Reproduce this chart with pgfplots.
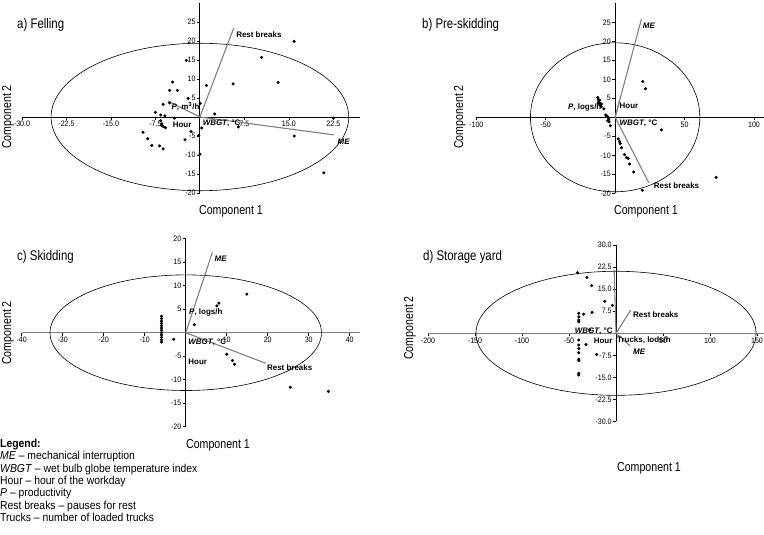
\documentclass[border=0pt]{standalone}
\usepackage{fontspec}
\setmainfont{Liberation Sans}
\newfontfamily\narrow{Liberation Sans}[FakeStretch=0.82]
\newfontfamily\legfont{Liberation Sans}[FakeStretch=0.9]
\usepackage{pgfplots}
\pgfplotsset{compat=1.18}

\pgfplotsset{
  pca/.style={
    scale only axis, anchor=south west,
    axis lines=middle, clip=false,
    axis line style={-, line width=0.8pt, black},
    tick align=outside, major tick length=3bp,
    tick style={black, line width=0.6pt},
    ticklabel style={font=\legfont\fontsize{7.9}{8.5}\selectfont, inner sep=1.2bp},
    /pgf/number format/assume math mode=true,
  },
  vec/.style={gray, line width=1.1pt, no markers, forget plot},
  pts/.style={only marks, mark=*, mark size=1.35bp, black, forget plot},
}
\tikzset{
  lab/.style={anchor=west, inner sep=0pt, font=\bfseries\fontsize{8}{9}\selectfont},
  fix1/.style={/pgf/number format/.cd, fixed, fixed zerofill, precision=1},
}
\newcommand{\ti}[1]{\textit{#1}}

\begin{document}
\begin{tikzpicture}
\useasboundingbox (0,0) rectangle (764bp,535bp);

% a) Felling
\begin{axis}[pca, at={(22bp,342bp)}, width=338bp, height=190bp,
  xmin=-30, xmax=27, ymin=-20, ymax=30,
  xtick={-30,-22.5,-15,-7.5,7.5,15,22.5}, ytick={-20,-15,...,25},
  xticklabel style={fix1}]
\draw[line width=0.6pt] (axis cs:0,0) ellipse [x radius=25.1, y radius=19.4];
\addplot[vec] coordinates {(0,0) (5.7,23.4)};
\addplot[vec] coordinates {(0,0) (22.6,-4.7)};
\addplot[vec] coordinates {(0,0) (-5.4,4.2)};
\addplot[pts] coordinates {
 (15.9,19.9) (10.4,15.7) (13.2,9.1) (5.6,8.7) (1.1,8.3) (-2.3,14.9)
 (-4.6,9.2) (-5.1,7.0) (-3.8,7.0) (-2.0,4.9) (0.05,3.6) (-5.1,3.7)
 (-6.2,3.3) (-7.5,1.2) (-6.6,0.5) (-5.9,0.3) (-4.3,-0.3) (-6.6,-1.0)
 (-6.4,-1.8) (-6.2,-2.5) (-5.8,-2.8) (-6.5,-2.2) (2.5,0.8) (22.5,-0.3)
 (0.3,-2.9) (-1.5,-3.8) (-0.2,-4.8) (6.5,-2.6) (15.9,-5.0) (-9.6,-4.0)
 (-8.8,-5.7) (-8.1,-7.5) (-6.8,-7.6) (-6.2,-8.4) (-2.5,-6.0) (0,-9.8)
 (20.9,-14.7)};
\node[lab] at (axis cs:6.1,21.8) {Rest breaks};
\node[lab] at (axis cs:23.2,-6.5) {\ti{ME}};
\node[lab] at (axis cs:-4.8,2.7) {\ti{P}, m\textsuperscript{3}/h};
\node[lab] at (axis cs:-4.6,-2.1) {Hour};
\node[lab] at (axis cs:0.45,-1.7) {\ti{WBGT}, °C};
\end{axis}

% b) Pre-skidding
\begin{axis}[pca, at={(476.3bp,341.7bp)}, width=287.4bp, height=190bp,
  xmin=-100, xmax=107, ymin=-20, ymax=30,
  xtick={-100,-50,50,100}, ytick={-20,-15,...,25}]
\draw[line width=0.6pt] (axis cs:0,0) ellipse [x radius=61, y radius=19.6];
\addplot[vec] coordinates {(0,0) (18.9,25.8)};
\addplot[vec] coordinates {(0,0) (24.2,-17.2)};
\addplot[vec] coordinates {(0,0) (3.1,4.4)};
\addplot[pts] coordinates {
 (19.9,9.4) (21.8,7.5) (33.3,-3.3) (72.7,-15.8) (19.6,-19.2)
 (-12.5,5.2) (-12.2,4.7) (-11.8,4.3) (-11.5,3.9) (-11.0,3.5) (-10.5,3.1)
 (-10.0,2.8) (-12.0,3.8) (-11.2,4.5) (-9.8,3.5) (-8.1,2.2)
 (-6.8,0.6) (-6.0,0.3) (-5.2,0) (-4.6,-0.5) (-5.4,-0.9) (-4.4,-1.2)
 (-3.4,-2.2) (2.2,-5.7) (3.2,-6.4) (3.6,-6.9) (4.6,-8) (6.8,-9.8)
 (8.2,-10.6) (9.4,-10.8) (10.3,-12.3) (13.4,-14.4)};
\node[lab] at (axis cs:19.9,24.1) {\ti{ME}};
\node[lab] at (axis cs:3.1,3.0) {Hour};
\node[lab] at (axis cs:-34,2.5) {\ti{P}, logs/h};
\node[lab] at (axis cs:3.1,-1.6) {\ti{WBGT}, °C};
\node[lab] at (axis cs:27.8,-18) {Rest breaks};
\end{axis}

% c) Skidding
\begin{axis}[pca, at={(21.7bp,108.3bp)}, width=338.3bp, height=188bp,
  xmin=-40, xmax=42.5, ymin=-20, ymax=20,
  x axis line style={gray},
  xtick={-40,-30,...,40}, ytick={-20,-15,...,20}]
\draw[line width=0.6pt] (axis cs:0,0) ellipse [x radius=33.1, y radius=12.3];
\addplot[vec] coordinates {(0,0) (6.5,17.1)};
\addplot[vec] coordinates {(0,0) (19.5,-6.5)};
\addplot[pts] coordinates {
 (14.9,8.2) (8.1,6.3) (7.6,5.7) (2.1,1.7) (-2.9,-1.4)
 (-5.9,3.5) (-5.9,3.0) (-5.9,2.5) (-5.9,2.0) (-5.9,1.5) (-5.9,1.0)
 (-5.9,0.5) (-5.9,0) (-5.9,-0.5) (-5.9,-1.0) (-5.9,-1.5) (-5.9,-2.0)
 (10,-4.6) (11.4,-5.9) (11.9,-6.7) (25.5,-11.6) (34.8,-12.5)};
\node[lab] at (axis cs:7.0,15.7) {\ti{ME}};
\node[lab] at (axis cs:0.8,4.3) {\ti{P}, logs/h};
\node[lab] at (axis cs:0.6,-2.1) {\ti{WBGT}, °C};
\node[lab] at (axis cs:0.6,-6.2) {Hour};
\node[lab] at (axis cs:19.8,-7.4) {Rest breaks};
\end{axis}

% d) Storage yard
\begin{axis}[pca, at={(428bp,113.5bp)}, width=335.6bp, height=176.4bp,
  xmin=-200, xmax=157, ymin=-30, ymax=30,
  x axis line style={gray, line width=1.1pt},
  xtick={-200,-150,...,150}, ytick={-30,-22.5,...,30},
  yticklabel style={fix1}]
\draw[line width=0.6pt] (axis cs:0,0) ellipse [x radius=149, y radius=21.1];
\addplot[vec] coordinates {(0,0) (15.5,7.9)};
\addplot[vec] coordinates {(0,0) (15,-4.3)};
\addplot[vec] coordinates {(0,0) (-2,21.5)};
\addplot[pts] coordinates {
 (-41,20.6) (-31,19) (-26,16.2) (-12,10.9) (-4,9.5) (-25.5,7.1) (-34.5,6.5)
 (-39.6,6.8) (-39.6,5.6) (-39.6,4.5) (-39.6,3.9)
 (-39.6,-2.3) (-39.6,-4.0) (-39.6,-5.2) (-39.6,-6.6) (-39.6,-8.8)
 (-39.6,-9.3) (-39.6,-13.6) (-39.6,-14.2)
 (-28,1.2) (-32,-3.8) (-20.6,-7.2)};
\node[lab] at (axis cs:18,6.2) {Rest breaks};
\node[lab] at (axis cs:-44,0.6) {\ti{WBGT}, °C};
\node[lab] at (axis cs:-23.8,-2.6) {Hour};
\node[lab] at (axis cs:1,-2.3) {Trucks, lods/h};
\node[lab] at (axis cs:18,-6.3) {\ti{ME}};
\end{axis}

% titles and axis names
\begin{scope}[every node/.style={inner sep=0pt}]
\node[anchor=west, font=\narrow\fontsize{14}{16}\selectfont] at (17bp,510bp) {a) Felling};
\node[anchor=west, font=\narrow\fontsize{14}{16}\selectfont] at (422bp,510bp) {b) Pre-skidding};
\node[anchor=west, font=\narrow\fontsize{14}{16}\selectfont] at (17bp,278bp) {c) Skidding};
\node[anchor=west, font=\narrow\fontsize{14}{16}\selectfont] at (423bp,278bp) {d) Storage yard};
\begin{scope}[every node/.append style={font=\narrow\fontsize{13}{15}\selectfont}]
\node[rotate=90] at (8bp,418bp) {Component 2};
\node at (231bp,324bp) {Component 1};
\node[rotate=90] at (460bp,418bp) {Component 2};
\node at (646bp,324bp) {Component 1};
\node[rotate=90] at (8bp,202bp) {Component 2};
\node at (218bp,90bp) {Component 1};
\node[rotate=90] at (410bp,207bp) {Component 2};
\node at (649bp,67bp) {Component 1};
\end{scope}
\node[anchor=north west, align=left, font=\legfont\fontsize{11.6}{12.4}\selectfont]
  at (0bp,96bp) {\textbf{Legend:}\\
  \textit{ME} – mechanical interruption\\
  \textit{WBGT} – wet bulb globe temperature index\\
  Hour – hour of the workday\\
  \textit{P} – productivity\\
  Rest breaks – pauses for rest\\
  Trucks – number of loaded trucks};
\end{scope}
\end{tikzpicture}
\end{document}
